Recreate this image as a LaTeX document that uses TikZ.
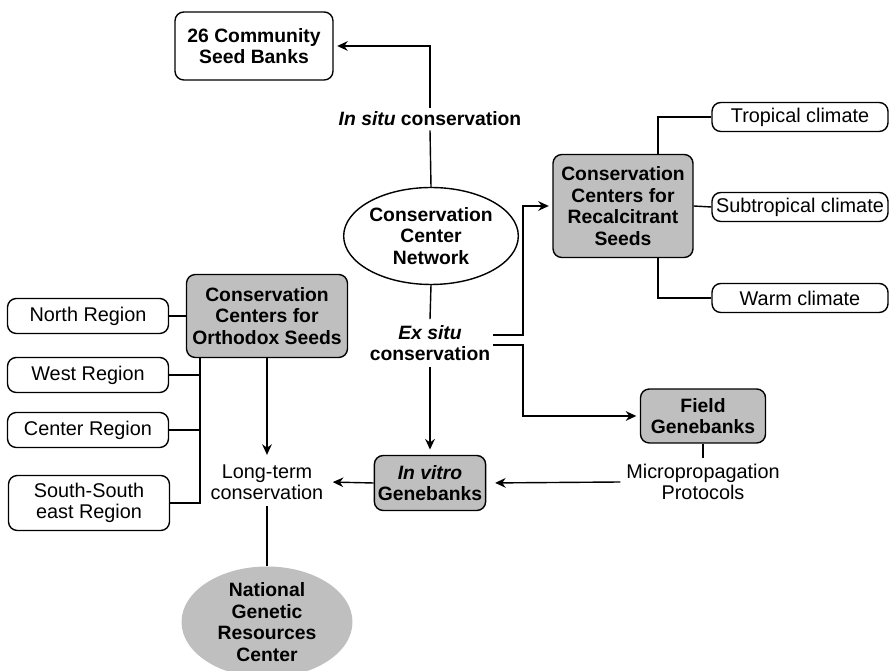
\documentclass[tikz,border=0pt]{standalone}
\usepackage{fontspec}
\setmainfont{Liberation Sans}
\usetikzlibrary{shapes.geometric,arrows.meta}
\newcommand{\diagfont}{\fontsize{11}{12.2}\selectfont}
\newcommand{\plainfont}{\fontsize{11.3}{12.2}\selectfont}
\begin{document}
\begin{tikzpicture}[
        x=0.02cm, y=-0.02cm,
        line width=0.8pt,
        box/.style = {draw, rounded corners=5pt, align=center, inner sep=2pt, font=\plainfont},
        greybox/.style = {box, fill=black!25, font=\diagfont\bfseries},
        txt/.style = {align=center, inner sep=3pt, font=\plainfont},
        arr/.style = {-{Stealth[length=6pt,width=5.5pt]}, shorten >=2pt}
    ]
        \useasboundingbox (0,0) rectangle (889,671);
        % centre
        \node[box, font=\diagfont\bfseries, minimum width=3.16cm, minimum height=1.36cm] (seeds) at (254,46) {26 Community\\Seed Banks};
        \node[txt, inner sep=2pt, font=\diagfont\bfseries] (insitu) at (430,119) {\textit{In situ} conservation};
        \node[draw, ellipse, align=center, inner sep=0pt, font=\diagfont\bfseries, minimum width=3.36cm, minimum height=1.94cm] (network) at (431,236) {Conservation\\Center\\Network};
        \node[txt, font=\diagfont\bfseries] (exsitu) at (430,343) {\textit{Ex situ}\\conservation};
        \coordinate (exa) at (493,335);
        \coordinate (exb) at (493,345);
        % recalcitrant seeds
        \node[greybox, minimum width=2.8cm, minimum height=2.06cm] (recalc) at (623,206) {Conservation\\Centers for\\Recalcitrant\\Seeds};
        \node[box, minimum width=3.52cm, minimum height=0.58cm] (tropical) at (800,117) {Tropical climate};
        \node[box, minimum width=3.52cm, minimum height=0.58cm] (subtrop) at (800,207) {Subtropical climate};
        \node[box, minimum width=3.52cm, minimum height=0.58cm] (warm) at (800,298) {Warm climate};
        \coordinate (rtop) at (658,154);
        \coordinate (rbot) at (658,257);
        % genebanks
        \node[greybox, minimum width=2.5cm, minimum height=1.08cm] (field) at (703,416) {Field\\Genebanks};
        \node[txt] (micro) at (703,482) {Micropropagation\\Protocols};
        \node[greybox, minimum width=2.18cm, minimum height=1.1cm] (invitro) at (430,483) {\textit{In vitro}\\Genebanks};
        \node[txt] (longterm) at (267,482) {Long-term\\conservation};
        \node[ellipse, fill=black!25, align=center, inner sep=0pt, font=\diagfont\bfseries, minimum width=3.42cm, minimum height=2cm] (nat) at (267,622) {National\\Genetic\\Resources\\Center};
        % orthodox seeds
        \node[greybox, minimum width=3.22cm, minimum height=1.66cm] (ortho) at (267,316) {Conservation\\Centers for\\Orthodox Seeds};
        \node[box, minimum width=3.22cm, minimum height=0.7cm] (north) at (88,316) {North Region};
        \node[box, minimum width=3.22cm, minimum height=0.7cm] (west) at (88,375) {West Region};
        \node[box, minimum width=3.22cm, minimum height=0.7cm] (center) at (88,430) {Center Region};
        \node[box, minimum width=3.22cm, minimum height=1.1cm] (south) at (89,503) {South-South\\east Region};
        \coordinate (trunk) at (200,358);
        % connectors
        \draw[arr] (insitu.north) |- (seeds.east);
        \draw (network.north) -- (insitu.south);
        \draw (network.south) -- (exsitu.north);
        \draw[arr, shorten >=3pt] (exsitu.south) -- (invitro.north);
        \draw[arr] (exa) -- ++(30,0) |- (recalc.west);
        \draw[arr] (exb) -- ++(30,0) |- (field.west);
        \draw (tropical.west) -| (rtop);
        \draw (recalc.east) -- (subtrop.west);
        \draw (warm.west) -| (rbot);
        \draw (field.south) -- (micro.north);
        \draw[arr, shorten >=5pt] (micro.west) -- (invitro.east);
        \draw[arr] (invitro.west) -- (longterm.east);
        \draw[arr] (ortho.south) -- (longterm.north);
        \draw (longterm.south) -- (nat.north);
        \draw (north.east) -- (ortho.west);
        \draw (west.east) -| (trunk);
        \draw (center.east) -| (trunk);
        \draw (south.east) -| (trunk);
\end{tikzpicture}
\end{document}
